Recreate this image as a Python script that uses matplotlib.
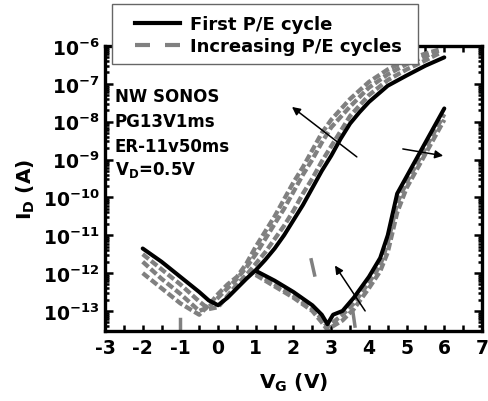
import numpy as np
import matplotlib
matplotlib.use("Agg")
import matplotlib.pyplot as plt
from matplotlib.ticker import (FuncFormatter, MultipleLocator, LogLocator, NullFormatter,
                               FixedLocator)
from matplotlib.lines import Line2D
from matplotlib.patches import Rectangle

plt.rcParams['font.family'] = ['DejaVu Sans']
plt.rcParams['font.weight'] = 'bold'
plt.rcParams['mathtext.fontset'] = 'dejavusans'

# ---------------- data (log10 of drain current, A) ----------------
# first P/E cycle, erased state (low Vt branch)
vg_erase = [-2.0, -1.5, -1.0, -0.5, -0.25, 0.0, 0.25, 0.5, 0.75, 1.0, 1.25, 1.5,
            1.75, 2.0, 2.25, 2.5, 2.75, 3.0, 3.25, 3.5, 3.75, 4.0, 4.5, 5.0, 5.5, 6.0]
log_id_first_erase = [-11.35, -11.7, -12.1, -12.5, -12.72, -12.85, -12.65, -12.4, -12.15,
                      -11.92, -11.65, -11.35, -11.0, -10.6, -10.2, -9.75, -9.3, -8.9,
                      -8.45, -8.05, -7.75, -7.48, -7.05, -6.78, -6.52, -6.3]

# increasing P/E cycles, erased state
vg_erase_cyc = [-2.0, -1.5, -1.0, -0.5, -0.25, 0.0, 0.25, 0.5, 0.75, 1.0, 1.25, 1.5,
                1.75, 2.0, 2.25, 2.5, 2.75, 3.0, 3.5, 4.0, 4.5, 5.0, 5.5, 5.85]
log_id_cyc_erase_1 = [-11.5, -11.9, -12.3, -12.75, -12.95, -12.9, -12.6, -12.3, -12.05,
                      -11.75, -11.45, -11.1, -10.75, -10.35, -9.9, -9.5, -9.05, -8.65,
                      -7.85, -7.3, -6.9, -6.62, -6.38, -6.2]
log_id_cyc_erase_2 = [-11.7, -12.15, -12.55, -13.0, -12.9, -12.65, -12.4, -12.15, -11.85,
                      -11.5, -11.1, -10.7, -10.3, -9.85, -9.4, -9.0, -8.55, -8.15,
                      -7.6, -7.1, -6.75, -6.48, -6.27, -6.13]
log_id_cyc_erase_3 = [-12.0, -12.4, -12.8, -13.1, -12.85, -12.55, -12.3, -12.1, -11.75,
                      -11.3, -10.9, -10.5, -10.05, -9.6, -9.2, -8.75, -8.3, -7.95,
                      -7.4, -6.95, -6.62, -6.38, -6.2, -6.1]

# programmed state (high Vt branch)
vg_prog = [1.0, 1.5, 2.0, 2.5, 2.75, 2.9, 3.05, 3.3, 3.6, 4.0, 4.3, 4.5, 4.75, 5.0, 5.5, 6.0]
log_id_first_prog = [-11.94, -12.2, -12.5, -12.85, -13.1, -13.35, -13.1, -13.0, -12.65,
                     -12.1, -11.6, -11.0, -9.9, -9.45, -8.55, -7.65]
log_id_cyc_prog_1 = [-12.0, -12.3, -12.6, -12.95, -13.2, -13.42, -13.3, -13.1, -12.8,
                     -12.25, -11.8, -11.2, -10.15, -9.6, -8.7, -7.8]
log_id_cyc_prog_2 = [-12.05, -12.35, -12.65, -13.0, -13.3, -13.5, -13.4, -13.25, -12.95,
                     -12.4, -11.95, -11.45, -10.4, -9.75, -8.85, -7.95]

# short noise spikes of the cycled curves
spike_vg = [[-1.0, -1.0], [2.47, 2.56], [3.58, 3.63]]
spike_log_id = [[-13.2, -13.5], [-11.65, -12.05], [-13.05, -13.4]]

# arrows (tail -> head), VG and log10 ID
arrow_tail_vg = [3.68, 4.9, 3.9]
arrow_tail_log = [-8.93, -8.72, -13.0]
arrow_head_vg = [1.96, 5.97, 3.1]
arrow_head_log = [-7.61, -8.9, -11.8]

# axis ticks
x_ticks = [-3, -2, -1, 0, 1, 2, 3, 4, 5, 6, 7]
y_tick_exponents = [-13, -12, -11, -10, -9, -8, -7, -6]

legend_labels = ["First P/E cycle", "Increasing P/E cycles"]
info_lines = ["NW SONOS", "PG13V1ms", "ER-11v50ms", r"V$_{\mathbf{D}}$=0.5V"]

# ---------------- figure ----------------
W, H = 489, 402
fig = plt.figure(figsize=(W / 100, H / 100), dpi=100)
ax = fig.add_axes([105 / W, 70 / H, 377 / W, 285 / H])
ax.set_yscale('log')

grey = '#808080'
gkw = dict(color=grey, lw=3.1, dashes=(1.8, 0.7), dash_capstyle='butt', zorder=2)
for arr in (log_id_cyc_erase_3, log_id_cyc_erase_2, log_id_cyc_erase_1):
    ax.plot(vg_erase_cyc, 10.0 ** np.array(arr), **gkw)
for arr in (log_id_cyc_prog_2, log_id_cyc_prog_1):
    ax.plot(vg_prog, 10.0 ** np.array(arr), **gkw)
for sx, sy in zip(spike_vg, spike_log_id):
    ax.plot(sx, 10.0 ** np.array(sy), color=grey, lw=2.5, zorder=2)

bkw = dict(color='black', lw=2.9, solid_joinstyle='round', solid_capstyle='round', zorder=3)
ax.plot(vg_erase, 10.0 ** np.array(log_id_first_erase), **bkw)
ax.plot(vg_prog, 10.0 ** np.array(log_id_first_prog), **bkw)

for tx, tl, hx, hl in zip(arrow_tail_vg, arrow_tail_log, arrow_head_vg, arrow_head_log):
    ax.annotate('', xy=(hx, 10.0 ** hl), xytext=(tx, 10.0 ** tl),
                arrowprops=dict(arrowstyle='-|>', color='black', lw=1.1,
                                mutation_scale=12, shrinkA=0, shrinkB=0), zorder=4)

ax.set_xlim(-3, 7)
ax.set_ylim(10 ** -13.53, 1e-6)

ax.xaxis.set_major_locator(FixedLocator(x_ticks))
ax.xaxis.set_minor_locator(MultipleLocator(0.5))
ax.xaxis.set_major_formatter(FuncFormatter(lambda v, p: '%d' % round(v)))
ax.yaxis.set_major_locator(FixedLocator([10.0 ** e for e in y_tick_exponents]))
ax.yaxis.set_minor_locator(LogLocator(base=10, subs=np.arange(2, 10), numticks=20))
ax.yaxis.set_minor_formatter(NullFormatter())
ax.yaxis.set_major_formatter(FuncFormatter(lambda v, p: r'$\mathbf{10^{%d}}$' % round(np.log10(v))))

ax.tick_params(which='both', direction='in', top=True, right=True, width=1.8, labelsize=13.5)
ax.tick_params(which='minor', labelleft=False, labelbottom=False)
ax.tick_params(axis='y', which='major', length=6, pad=4)
ax.tick_params(axis='y', which='minor', length=3)
ax.tick_params(axis='x', which='both', length=4, pad=5)
for s in ax.spines.values():
    s.set_linewidth(2.4)

ax.set_xlabel(r'V$_{\mathbf{G}}$ (V)', fontsize=14.5, fontweight='bold', labelpad=10)
ax.set_ylabel(r'I$_{\mathbf{D}}$ (A)', fontsize=14.5, fontweight='bold', labelpad=4)

for t, py in zip(info_lines, [102, 127, 152, 175]):
    ax.text(10 / 377, (332 - py) / 285, t, transform=ax.transAxes, fontsize=12,
            fontweight='bold', va='baseline', ha='left')

# legend box on top of the axes
fig.add_artist(Rectangle((112 / W, 1 - 65 / H), (418 - 112) / W, 60 / H,
                         transform=fig.transFigure, facecolor='white',
                         edgecolor='#666666', lw=1.0, zorder=4))
handles = [Line2D([], [], color='black', lw=3.0),
           Line2D([], [], color=grey, lw=3.0, dashes=(3.6, 3.6))]
fig.legend(handles, legend_labels, loc='upper left',
           bbox_to_anchor=(135 / W, 1 - 16 / H), frameon=False,
           borderpad=0, borderaxespad=0, handlelength=2.5, handletextpad=0.55,
           labelspacing=0.22, prop={'weight': 'bold', 'size': 13})

fig.savefig('out.png', dpi=100)
